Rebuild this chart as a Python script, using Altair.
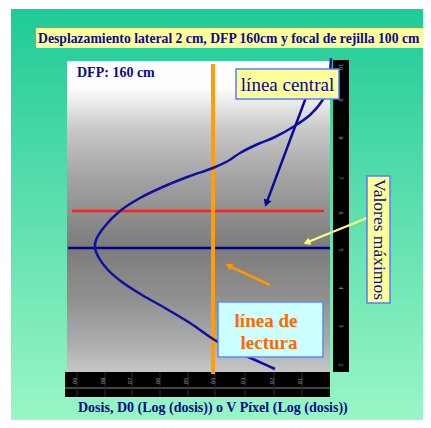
import math
import altair as alt
import pandas as pd

# ---------------- data ----------------
title_text = "Desplazamiento lateral 2 cm, DFP 160cm y focal de rejilla 100 cm"
dfp_text = "DFP: 160 cm"
axis_text = "Dosis, D0 (Log (dosis)) o V Píxel (Log (dosis))"
central_text = "línea central"
max_text = "Valores máximos"
lectura_lines = ["línea de", "lectura"]

# dose profile curve (figure units: x = dose reading, y = lateral position)
curve_x = [331, 330, 327, 322, 310, 293, 275, 258, 240, 228, 213, 190, 165, 140,
           120, 105, 96, 95, 99, 108, 122, 142, 165, 190, 213, 235, 255, 275]
curve_y = [58, 72, 90, 101, 115, 127, 137, 144, 153, 161, 168, 176, 186, 198,
           211, 226, 240, 248, 258, 270, 282, 295, 308, 323, 339, 351, 360, 369]

# reading line (dose), central line and maximum line (position)
reading_dose = 213
central_pos = 211
max_pos = 248

# ruler tick positions and labels
right_ticks = [67, 100, 138, 178, 213, 250, 288, 326, 365]
right_labels = ["10", "9", "8", "7", "6", "5", "4", "3", "2"]
bottom_ticks = [75, 103, 130, 158, 186, 213, 243, 272, 300]
bottom_labels = ["09", "08", "07", "06", "05", "04", "03", "02", "01"]

# ---------------- scales ----------------
X = alt.Scale(domain=[8, 423], nice=False, zero=False)
Y = alt.Scale(domain=[8, 420], nice=False, zero=False, reverse=True)


def ex(f):
    return alt.X(f, scale=X, axis=None)


def ey(f):
    return alt.Y(f, scale=Y, axis=None)


def rect(df, **mark):
    return alt.Chart(df).mark_rect(**mark).encode(
        x=ex("x0:Q"), x2="x1:Q", y=ey("y0:Q"), y2="y1:Q")


def rule(df, **mark):
    return alt.Chart(df).mark_rule(**mark).encode(
        x=ex("x0:Q"), x2="x1:Q", y=ey("y0:Q"), y2="y1:Q")


def text(df, **mark):
    return alt.Chart(df).mark_text(**mark).encode(
        x=ex("x:Q"), y=ey("y:Q"), text="t:N")


def grad(stops):
    return alt.Gradient(
        gradient="linear",
        stops=[alt.GradientStop(offset=o, color=c) for o, c in stops],
        x1=0, x2=0, y1=0, y2=1)


NAVY = "#0A0A8C"
SERIF = "Liberation Serif"

layers = []

# green background
layers.append(rect(pd.DataFrame([dict(x0=11, x1=423, y0=9, y1=420)]),
                   fill=grad([(0, "#1FCB97"), (0.5, "#5EDFAE"), (1, "#9AF6C6")])))

# title band
layers.append(rect(pd.DataFrame([dict(x0=36, x1=423, y0=28, y1=48)]), fill="#FFFF99"))
layers.append(text(pd.DataFrame([dict(x=38, y=38.5, t=title_text)]),
                   font=SERIF, fontWeight="bold", fontSize=13.7, color=NAVY,
                   align="left", baseline="middle"))

# gray film panel
layers.append(rect(pd.DataFrame([dict(x0=67, x1=330, y0=61, y1=372)]),
                   fill=grad([(0, "#FFFFFF"), (0.09, "#FCFCFC"), (0.22, "#C8C8C8"),
                              (0.38, "#A2A2A2"), (0.6, "#7C7C7C"), (0.77, "#919191"),
                              (0.9, "#ABABAB"), (1, "#C6C6C6")])))

# rulers
layers.append(rect(pd.DataFrame([dict(x0=333, x1=349, y0=60, y1=372)]), fill="black"))
layers.append(rect(pd.DataFrame([dict(x0=65, x1=330, y0=372, y1=397)]), fill="black"))
layers.append(rule(pd.DataFrame([dict(x0=65, x1=330, y0=388, y1=388)]),
                   color="#8A8A8A", strokeWidth=1))
layers.append(rule(pd.DataFrame([dict(x0=v + 2, x1=v + 2, y0=372, y1=397) for v in bottom_ticks]),
                   color="#2A2A2A", strokeWidth=1))
layers.append(text(pd.DataFrame([dict(x=341, y=v, t=s) for v, s in zip(right_ticks, right_labels)]),
                   font="DejaVu Sans", fontSize=5.5, color="#8C8C8C", angle=90,
                   align="center", baseline="middle"))
layers.append(text(pd.DataFrame([dict(x=v, y=381, t=s) for v, s in zip(bottom_ticks, bottom_labels)]),
                   font="DejaVu Sans", fontSize=5.5, color="#8C8C8C", angle=270,
                   align="center", baseline="middle"))

# central (red) and maximum (navy) lines
layers.append(rule(pd.DataFrame([dict(x0=72, x1=324, y0=central_pos, y1=central_pos)]),
                   color="#FF1E1E", strokeWidth=2.5))
layers.append(rule(pd.DataFrame([dict(x0=68, x1=330, y0=max_pos, y1=max_pos)]),
                   color="#00008B", strokeWidth=2.5))

# reading line (orange)
layers.append(rule(pd.DataFrame([dict(x0=reading_dose, x1=reading_dose, y0=64, y1=374)]),
                   color="#FF9E0A", strokeWidth=4))

# profile curve
cdf = pd.DataFrame({"x": curve_x, "y": curve_y, "o": list(range(len(curve_x)))})
layers.append(alt.Chart(cdf).mark_line(color="#1010A0", strokeWidth=2.5,
                                       interpolate="catmull-rom").encode(
    x=ex("x:Q"), y=ey("y:Q"), order="o:Q"))

# DFP label
layers.append(text(pd.DataFrame([dict(x=77, y=73, t=dfp_text)]),
                   font=SERIF, fontWeight="bold", fontSize=14, color=NAVY,
                   align="left", baseline="middle"))

# arrows
arrows = [
    dict(x0=311, y0=84, x1=265, y1=207, c="#0A0A96", w=2.5, s=70),
    dict(x0=367, y0=218, x1=303, y1=244, c="#FFFF80", w=2.2, s=60),
    dict(x0=270, y0=285, x1=225, y1=264, c="#FF9900", w=2.5, s=60),
]
for a in arrows:
    dx, dy = a["x1"] - a["x0"], a["y1"] - a["y0"]
    L = math.hypot(dx, dy)
    ux, uy = dx / L, dy / L
    ang = math.degrees(math.atan2(ux, -uy)) % 360
    hx, hy = a["x1"] - ux * 4, a["y1"] - uy * 4
    layers.append(rule(pd.DataFrame([dict(x0=a["x0"], x1=hx - ux * 2, y0=a["y0"], y1=hy - uy * 2)]),
                       color=a["c"], strokeWidth=a["w"]))
    layers.append(alt.Chart(pd.DataFrame([dict(x=hx, y=hy)])).mark_point(
        shape="triangle-up", filled=True, color=a["c"], opacity=1, size=a["s"],
        angle=ang).encode(x=ex("x:Q"), y=ey("y:Q")))

# label boxes
layers.append(rect(pd.DataFrame([dict(x0=236, x1=339, y0=69, y1=99)]),
                   fill="#FFFF99", stroke="#5A7BFF", strokeWidth=1.5))
layers.append(text(pd.DataFrame([dict(x=287.5, y=85, t=central_text)]),
                   font=SERIF, fontSize=19, color=NAVY, align="center", baseline="middle"))

layers.append(rect(pd.DataFrame([dict(x0=367, x1=390, y0=176, y1=303)]),
                   fill="#FFFF99", stroke="#5A7BFF", strokeWidth=1.5))
layers.append(text(pd.DataFrame([dict(x=378.5, y=239.5, t=max_text)]),
                   font=SERIF, fontSize=17.5, color=NAVY, angle=90,
                   align="center", baseline="middle"))

layers.append(rect(pd.DataFrame([dict(x0=218, x1=323, y0=302, y1=357)]),
                   fill="#CCFFFF", stroke="#5A8BFF", strokeWidth=1.5))
layers.append(text(pd.DataFrame([dict(x=266, y=321, t=lectura_lines[0]),
                                 dict(x=269, y=343, t=lectura_lines[1])]),
                   font=SERIF, fontWeight="bold", fontSize=19, color="#FF6A00",
                   align="center", baseline="middle"))

# axis caption
layers.append(text(pd.DataFrame([dict(x=78, y=408, t=axis_text)]),
                   font=SERIF, fontWeight="bold", fontSize=14, color=NAVY,
                   align="left", baseline="middle"))

chart = alt.layer(*layers).properties(
    width=415, height=412, padding=0,
    autosize=alt.AutoSizeParams(type="none"), background="white"
).configure_view(strokeWidth=0)

chart.save("out.html", embed_options={"renderer": "svg", "actions": False})
